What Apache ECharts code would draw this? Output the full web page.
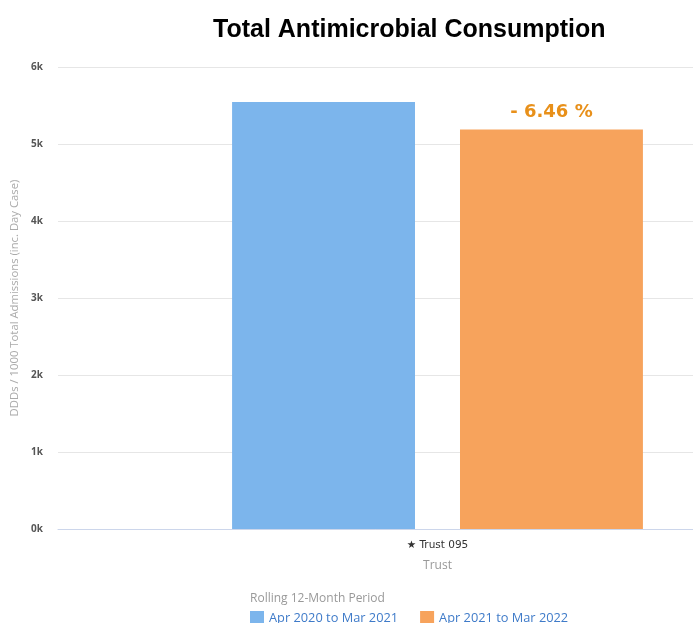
<!DOCTYPE html>
<html>
<head>
<meta charset="utf-8">
<script src="https://cdn.jsdelivr.net/npm/echarts@6/dist/echarts.min.js"></script>
<style>
  html, body { margin: 0; padding: 0; background: #fff; }
  #chart { width: 693px; height: 623px; }
</style>
</head>
<body>
<div id="chart"></div>
<script>
const categories = ['★ Trust 095'];
const periods = ['Apr 2020 to Mar 2021', 'Apr 2021 to Mar 2022'];
const previousValues = [5545];
const currentValues = [5187];
const yTicks = [0, 1000, 2000, 3000, 4000, 5000, 6000];

const change = (currentValues[0] - previousValues[0]) / previousValues[0] * 100;
const changeLabel = (change < 0 ? '- ' : '+ ') + Math.abs(change).toFixed(2) + ' %';

const chart = echarts.init(document.getElementById('chart'));
const option = {
  animation: false,
  textStyle: { fontFamily: 'Open Sans' },
  title: [
    {
      text: 'Total Antimicrobial Consumption',
      left: 208,
      top: 13,
      textStyle: { fontFamily: 'Liberation Sans', fontSize: 25, fontWeight: 'bold', color: '#000' }
    },
    {
      text: 'Rolling 12-Month Period',
      left: 245,
      top: 588,
      textStyle: { fontFamily: 'Open Sans', fontSize: 12, fontWeight: 'normal', color: '#999' }
    }
  ],
  legend: {
    left: 250,
    top: 611,
    padding: 0,
    itemWidth: 14,
    itemHeight: 14,
    itemGap: 22,
    icon: 'rect',
    data: periods,
    textStyle: { color: '#3f7bc9', fontSize: 12.8, fontFamily: 'Open Sans' }
  },
  grid: { left: 58, right: -124, top: 67, bottom: 94, containLabel: false, outerBoundsMode: 'none' },
  xAxis: {
    type: 'category',
    data: categories,
    name: 'Trust',
    nameLocation: 'middle',
    nameGap: 31,
    nameTextStyle: { color: '#999', fontSize: 12 },
    axisLine: { lineStyle: { color: '#ccd6eb' } },
    axisTick: { length: 9, lineStyle: { color: '#ccd6eb' } },
    axisLabel: { color: '#333', fontSize: 10.5, margin: 11, fontFamily: 'DejaVu Sans' }
  },
  yAxis: {
    type: 'value',
    min: yTicks[0],
    max: yTicks[yTicks.length - 1],
    interval: 1000,
    name: 'DDDs / 1000 Total Admissions (inc. Day Case)',
    nameLocation: 'middle',
    nameGap: 36,
    nameTextStyle: { color: '#aaa', fontSize: 11.3 },
    axisLabel: {
      color: '#555',
      fontSize: 10,
      fontWeight: 'bold',
      margin: 15,
      formatter: v => (v / 1000) + 'k'
    },
    splitLine: { lineStyle: { color: '#e6e6e6' } }
  },
  series: [
    {
      name: periods[0],
      type: 'bar',
      data: previousValues,
      barWidth: '24.1%',
      barGap: '24.6%',
      itemStyle: { color: '#7cb5ec' }
    },
    {
      name: periods[1],
      type: 'bar',
      data: currentValues,
      barWidth: '24.1%',
      itemStyle: { color: '#f7a35c' },
      label: {
        show: true,
        position: 'top',
        distance: 8,
        formatter: changeLabel,
        color: '#e8901a',
        fontSize: 18,
        fontWeight: 'bold',
        fontFamily: 'DejaVu Sans'
      }
    }
  ]
};
chart.setOption(option);
</script>
</body>
</html>
